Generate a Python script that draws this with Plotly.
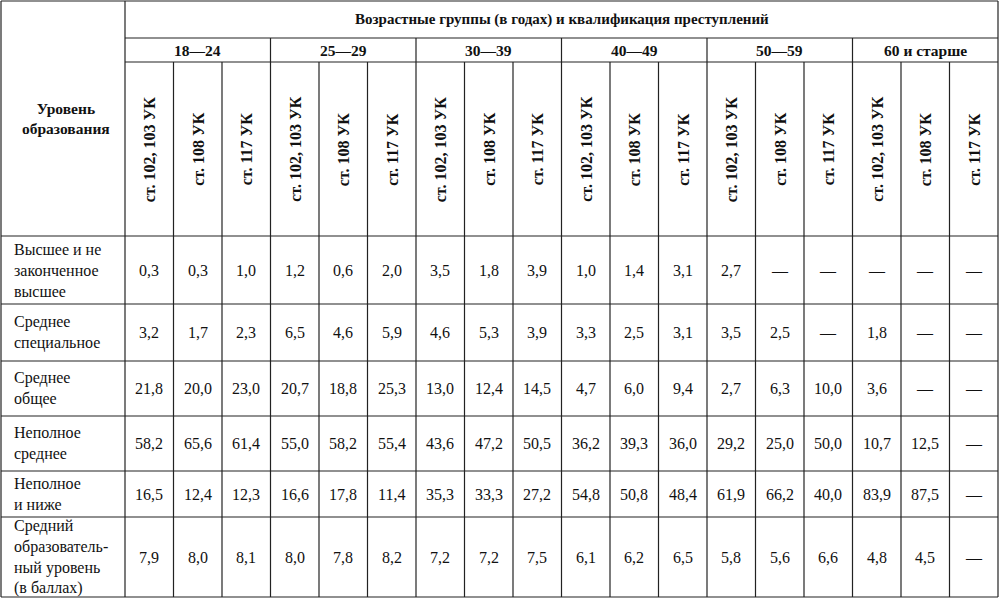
import plotly.graph_objects as go

title = "Возрастные группы (в годах) и квалификация преступлений"
row_header = "Уровень<br>образования"
age_groups = ["18—24", "25—29", "30—39", "40—49", "50—59", "60 и старше"]
crimes = ["ст. 102, 103 УК", "ст. 108 УК", "ст. 117 УК"]
levels = ["Высшее и не<br>законченное<br>высшее", "Среднее<br>специальное", "Среднее<br>общее",
          "Неполное<br>среднее", "Неполное<br>и ниже",
          "Средний<br>образователь-<br>ный уровень<br>(в баллах)"]
values = [
    ["0,3","0,3","1,0","1,2","0,6","2,0","3,5","1,8","3,9","1,0","1,4","3,1","2,7","—","—","—","—","—"],
    ["3,2","1,7","2,3","6,5","4,6","5,9","4,6","5,3","3,9","3,3","2,5","3,1","3,5","2,5","—","1,8","—","—"],
    ["21,8","20,0","23,0","20,7","18,8","25,3","13,0","12,4","14,5","4,7","6,0","9,4","2,7","6,3","10,0","3,6","—","—"],
    ["58,2","65,6","61,4","55,0","58,2","55,4","43,6","47,2","50,5","36,2","39,3","36,0","29,2","25,0","50,0","10,7","12,5","—"],
    ["16,5","12,4","12,3","16,6","17,8","11,4","35,3","33,3","27,2","54,8","50,8","48,4","61,9","66,2","40,0","83,9","87,5","—"],
    ["7,9","8,0","8,1","8,0","7,8","8,2","7,2","7,2","7,5","6,1","6,2","6,5","5,8","5,6","6,6","4,8","4,5","—"],
]

X0, X1, XL = 1, 998, 125
CW = (X1 - XL) / 18
yh = [1, 38, 62, 236]
yr = [236, 304, 361, 416, 471, 517, 597]
FONT = "Liberation Serif"

fig = go.Figure()
shapes, ann = [], []
def line(x0, y0, x1, y1, w=1.2):
    shapes.append(dict(type="line", x0=x0, y0=y0, x1=x1, y1=y1, xref="x", yref="y",
                       line=dict(color="#222", width=w)))
def text(x, y, t, size=15, bold=False, angle=0, xanchor="center"):
    ann.append(dict(x=x, y=y, xref="x", yref="y", text=f"<b>{t}</b>" if bold else t,
                    showarrow=False, textangle=angle, xanchor=xanchor, yanchor="middle",
                    align="left" if xanchor == "left" else "center",
                    font=dict(family=FONT, size=size, color="#111")))

line(X0, yh[0], X1, yh[0]); line(X0, yr[-1], X1, yr[-1])
line(X0, yh[0], X0, yr[-1]); line(X1, yh[0], X1, yr[-1])
line(XL, yh[0], XL, yr[-1])
line(XL, yh[1], X1, yh[1]); line(XL, yh[2], X1, yh[2])
for y in yr[:-1]:
    line(X0, y, X1, y)
for c in range(1, 18):
    x = XL + c * CW
    line(x, yh[2] if c % 3 else yh[1], x, yr[-1])

text((XL + X1) / 2, (yh[0] + yh[1]) / 2, title, 15, True)
text(XL / 2 + 3, (yh[0] + yr[0]) / 2, row_header, 15.5, True)
for g, a in enumerate(age_groups):
    text(XL + (g * 3 + 1.5) * CW, (yh[1] + yh[2]) / 2, a, 15.5, True)
for c in range(18):
    text(XL + (c + 0.5) * CW, (yh[2] + yh[3]) / 2, crimes[c % 3], 16, True, angle=-90)
for r, lvl in enumerate(levels):
    ym = (yr[r] + yr[r + 1]) / 2
    text(12, ym, lvl, 16, xanchor="left")
    for c in range(18):
        text(XL + (c + 0.5) * CW, ym, values[r][c], 16)

fig.update_layout(width=1000, height=599, margin=dict(l=0, r=0, t=0, b=0),
                  plot_bgcolor="white", paper_bgcolor="white", shapes=shapes, annotations=ann,
                  xaxis=dict(range=[0, 1000], visible=False, fixedrange=True),
                  yaxis=dict(range=[599, 0], visible=False, fixedrange=True),
                  showlegend=False)
fig.write_html("out.html",
               post_script="document.body.style.margin='0';document.body.style.overflow='hidden';",
               config={"displayModeBar": False})
